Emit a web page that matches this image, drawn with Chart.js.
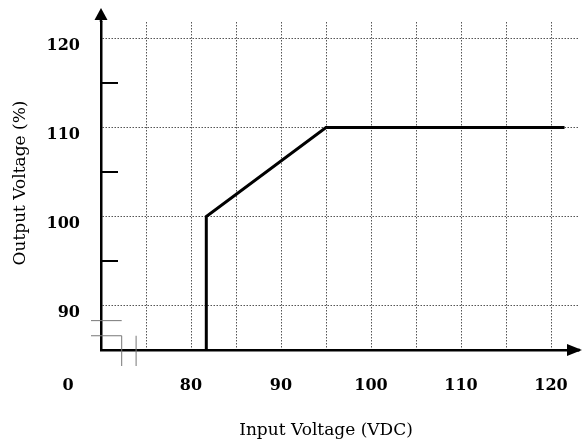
<!DOCTYPE html>
<html>
<head>
<meta charset="utf-8">
<script src="https://cdn.jsdelivr.net/npm/chart.js@4/dist/chart.umd.min.js"></script>
<style>
  html, body { margin:0; padding:0; background:#fff; }
  canvas { display:block; }
</style>
</head>
<body>
<canvas id="c" width="587" height="444"></canvas>
<script>
// curve: input voltage (VDC) vs output voltage (%)
const inputV    = [81.7, 81.7, 95, 121.5];
const outputPct = [85, 100, 110, 110];

const xTicks = [70, 75, 80, 85, 90, 95, 100, 105, 110, 115, 120];
const xLabels = [80, 90, 100, 110, 120];
const yTicks = [85, 90, 95, 100, 105, 110, 115, 120];
const yLabels = [90, 100, 110, 120];
const yMinor = [95, 105, 115];     // short marks on the axis, no grid
const yBreak = [86.6, 88.3];        // axis break lines
const xBreak = [72.3, 73.9];

const serif = "'DejaVu Serif', 'Liberation Serif', serif";
const gridCol = "#555";

// keep label overflow from shrinking the plot
const noPad = s => { s.paddingTop = 0; s.paddingBottom = 0; s.paddingLeft = 0; s.paddingRight = 0; };

const extras = {
  id: "extras",
  afterDraw(chart){
    const {ctx, chartArea:ca, scales:{x, y}} = chart;
    ctx.save();
    // axis arrows
    ctx.fillStyle = "#000";
    ctx.strokeStyle = "#000";
    ctx.lineWidth = 2.5;
    ctx.beginPath(); ctx.moveTo(ca.left, ca.top); ctx.lineTo(ca.left, ca.top - 6); ctx.stroke();
    ctx.beginPath(); ctx.moveTo(ca.left, ca.top - 14); ctx.lineTo(ca.left - 6.5, ca.top - 2); ctx.lineTo(ca.left + 6.5, ca.top - 2); ctx.closePath(); ctx.fill();
    ctx.beginPath(); ctx.moveTo(ca.right, ca.bottom); ctx.lineTo(ca.right + 2, ca.bottom); ctx.stroke();
    ctx.beginPath(); ctx.moveTo(ca.right + 4, ca.bottom); ctx.lineTo(ca.right - 11, ca.bottom - 6); ctx.lineTo(ca.right - 11, ca.bottom + 6); ctx.closePath(); ctx.fill();

    // minor marks on y axis
    ctx.lineWidth = 2;
    yMinor.forEach(v=>{
      const py = y.getPixelForValue(v);
      ctx.beginPath(); ctx.moveTo(ca.left, py); ctx.lineTo(ca.left + 17, py); ctx.stroke();
    });

    // break symbols
    ctx.strokeStyle = "#777";
    ctx.lineWidth = 1;
    const b0 = y.getPixelForValue(yBreak[0]), b1 = y.getPixelForValue(yBreak[1]);
    const v0 = x.getPixelForValue(xBreak[0]), v1 = x.getPixelForValue(xBreak[1]);
    ctx.beginPath();
    ctx.moveTo(ca.left - 10, b1); ctx.lineTo(v0, b1);
    ctx.moveTo(ca.left - 10, b0); ctx.lineTo(v0, b0); ctx.lineTo(v0, ca.bottom + 16);
    ctx.moveTo(v1, b0); ctx.lineTo(v1, ca.bottom + 16);
    ctx.stroke();

    // "0" at the broken origin
    ctx.fillStyle = "#000";
    ctx.font = "bold 16px " + serif;
    ctx.textAlign = "center";
    ctx.textBaseline = "middle";
    ctx.fillText("0", ca.left - 33, ca.bottom + 36);

    // axis titles
    ctx.font = "17px " + serif;
    ctx.fillText("Input Voltage (VDC)", 326, ca.bottom + 81);
    ctx.translate(21, (ca.top + ca.bottom) / 2 - 3);
    ctx.rotate(-Math.PI / 2);
    ctx.fillText("Output Voltage (%)", 0, 0);
    ctx.restore();
  }
};

new Chart(document.getElementById("c"), {
  type: "line",
  data: {
    datasets: [{
      data: inputV.map((v, i) => ({ x: v, y: outputPct[i] })),
      borderColor: "#000",
      borderWidth: 3,
      pointRadius: 0,
      tension: 0,
      fill: false
    }]
  },
  options: {
    responsive: false,
    animation: false,
    devicePixelRatio: 1,
    layout: { padding: { left: 0, top: 22, right: 9, bottom: 0 } },
    plugins: { legend: { display: false }, tooltip: { enabled: false } },
    scales: {
      x: {
        type: "linear",
        min: 70, max: 123,
        afterBuildTicks: s => { s.ticks = xTicks.map(v => ({ value: v })); },
        afterFit: s => { s.height = 94; noPad(s); },
        grid: {
          drawTicks: false,
          color: c => (c.tick && c.tick.value === 70) ? "rgba(0,0,0,0)" : gridCol,
          lineWidth: 1
        },
        border: { display: true, color: "#000", width: 2.5, dash: [1.5, 1.5] },
        ticks: {
          padding: 26,
          maxRotation: 0,
          autoSkip: false,
          color: "#000",
          font: { family: serif, size: 16, weight: "bold" },
          callback: v => xLabels.includes(v) ? String(v) : ""
        }
      },
      y: {
        type: "linear",
        min: 85, max: 121.85,
        afterBuildTicks: s => { s.ticks = yTicks.map(v => ({ value: v })); },
        afterFit: s => { s.width = 101; noPad(s); },
        grid: {
          drawTicks: false,
          color: c => (c.tick && yLabels.includes(c.tick.value)) ? gridCol : "rgba(0,0,0,0)",
          lineWidth: 1
        },
        border: { display: true, color: "#000", width: 2.5, dash: [1.5, 1.5] },
        ticks: {
          padding: 21,
          labelOffset: 7,
          autoSkip: false,
          color: "#000",
          font: { family: serif, size: 16, weight: "bold" },
          callback: v => yLabels.includes(v) ? String(v) : ""
        }
      }
    }
  },
  plugins: [extras]
});
</script>
</body>
</html>
